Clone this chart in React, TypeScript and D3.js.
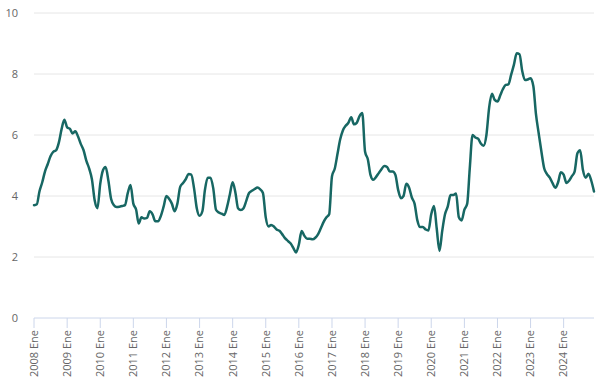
import * as d3 from 'd3';

// monthly values, Jan 2008 .. Dec 2024
const startYear = 2008;
const values = [
  3.70, 3.73, 4.15, 4.45, 4.80, 5.05, 5.30, 5.45, 5.50, 5.75, 6.20, 6.50, // 2008
  6.25, 6.20, 6.05, 6.12, 5.95, 5.70, 5.50, 5.15, 4.90, 4.55, 3.85, 3.60, // 2009
  4.40, 4.85, 4.95, 4.50, 3.90, 3.70, 3.64, 3.65, 3.67, 3.70, 4.10, 4.36, // 2010
  3.75, 3.55, 3.10, 3.30, 3.26, 3.28, 3.50, 3.40, 3.17, 3.17, 3.35, 3.65, // 2011
  4.00, 3.90, 3.75, 3.50, 3.75, 4.30, 4.42, 4.55, 4.72, 4.70, 4.25, 3.60, // 2012
  3.35, 3.50, 4.20, 4.60, 4.60, 4.25, 3.55, 3.46, 3.42, 3.38, 3.65, 4.05, // 2013
  4.45, 4.10, 3.60, 3.54, 3.60, 3.85, 4.10, 4.17, 4.23, 4.28, 4.22, 4.10, // 2014
  3.30, 3.00, 3.05, 3.00, 2.90, 2.86, 2.75, 2.62, 2.53, 2.45, 2.30, 2.15, // 2015
  2.40, 2.85, 2.70, 2.60, 2.60, 2.58, 2.63, 2.75, 2.95, 3.15, 3.30, 3.40, // 2016
  4.65, 4.90, 5.35, 5.85, 6.15, 6.30, 6.40, 6.58, 6.35, 6.40, 6.62, 6.72, // 2017
  5.45, 5.20, 4.70, 4.53, 4.62, 4.75, 4.88, 4.98, 4.95, 4.80, 4.80, 4.70, // 2018
  4.20, 3.93, 4.00, 4.40, 4.28, 3.95, 3.75, 3.20, 2.98, 2.98, 2.90, 2.87, // 2019
  3.40, 3.67, 2.95, 2.20, 2.85, 3.40, 3.65, 4.03, 4.03, 4.08, 3.30, 3.20, // 2020
  3.55, 3.75, 4.90, 6.00, 5.92, 5.88, 5.72, 5.65, 6.00, 6.90, 7.35, 7.15, // 2021
  7.10, 7.30, 7.50, 7.64, 7.66, 7.98, 8.30, 8.68, 8.65, 8.10, 7.80, 7.82, // 2022
  7.86, 7.60, 6.70, 6.05, 5.45, 4.90, 4.72, 4.60, 4.42, 4.27, 4.45, 4.78, // 2023
  4.70, 4.43, 4.50, 4.65, 4.80, 5.40, 5.50, 4.85, 4.60, 4.73, 4.50, 4.15, // 2024
];
const yTicks = [0, 2, 4, 6, 8, 10];
const tickYears = d3.range(2008, 2025);
const monthLabel = 'Ene';

const width = 606;
const height = 389;
const margin = { top: 13, right: 12, bottom: 71, left: 34 };

export default function App() {
  const data = values.map((v, i) => ({ date: new Date(startYear, i, 1), value: v }));

  const x = d3.scaleTime()
    .domain([data[0].date, data[data.length - 1].date])
    .range([margin.left, width - margin.right]);

  const y = d3.scaleLinear()
    .domain([0, 10])
    .range([height - margin.bottom, margin.top]);

  const line = d3.line<{ date: Date; value: number }>()
    .x(d => x(d.date))
    .y(d => y(d.value))
    .curve(d3.curveMonotoneX);

  const font = '"Open Sans", "DejaVu Sans", sans-serif';
  const y0 = y(0);

  return (
    <svg width={width} height={height}
      style={{ position: 'absolute', left: 0, top: 0, display: 'block', background: '#fff' }}>
      {yTicks.filter(t => t > 0).map(t => (
        <line key={'g' + t} x1={margin.left} x2={width - margin.right}
          y1={y(t)} y2={y(t)} stroke="#e6e6e6" strokeWidth={1} />
      ))}
      {yTicks.map(t => (
        <text key={'yl' + t} x={18} y={y(t)} dy="0.35em" textAnchor="end"
          fontSize={11} fill="#666" fontFamily={font}>{t}</text>
      ))}

      <line x1={margin.left} x2={width - margin.right} y1={y0} y2={y0}
        stroke="#ccd6eb" strokeWidth={1} />
      {tickYears.map(yr => {
        const tx = x(new Date(yr, 0, 1));
        return (
          <g key={'xt' + yr}>
            <line x1={tx} x2={tx} y1={y0} y2={y0 + 10} stroke="#ccd6eb" strokeWidth={1} />
            <text transform={`translate(${tx},${y0 + 12}) rotate(-90)`} dy="0.35em"
              textAnchor="end" fontSize={11} fill="#666" fontFamily={font}>
              {`${yr} ${monthLabel}`}
            </text>
          </g>
        );
      })}

      <path d={line(data) ?? ''} fill="none" stroke="#176763" strokeWidth={2.5}
        strokeLinejoin="round" strokeLinecap="round" />
    </svg>
  );
}
